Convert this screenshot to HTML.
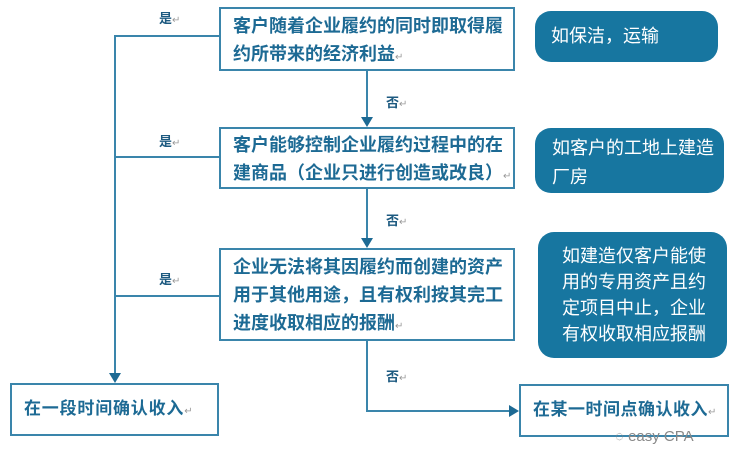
<!DOCTYPE html>
<html><head><meta charset="utf-8"><style>
body{margin:0;width:741px;height:467px;background:#fff;position:relative;overflow:hidden;font-family:"Liberation Sans","Noto Sans CJK SC",sans-serif;}
.b{position:absolute;border:2px solid #3a85ab;box-sizing:border-box;color:#1d6a94;font-weight:bold;font-size:18px;letter-spacing:0;line-height:28px;padding:4px 0 4px 12px;background:#fff;white-space:nowrap}
.r{position:absolute;background:#1776a0;border-radius:16px;color:#fff;font-size:18px;line-height:26px;box-sizing:border-box;white-space:nowrap}
.l{position:absolute;background:#3a85ab}
.t{position:absolute;color:#1d5a80;font-size:13px;font-weight:bold}
.a{position:absolute;width:0;height:0}
.m{color:#999;font-size:10px;font-weight:normal;letter-spacing:0}
</style></head><body>
<div class="l" style="left:114px;top:35px;width:2px;height:340px"></div>
<div class="l" style="left:114px;top:35px;width:106px;height:2px"></div>
<div class="l" style="left:114px;top:156px;width:106px;height:2px"></div>
<div class="l" style="left:114px;top:295px;width:106px;height:2px"></div>
<div class="a" style="left:109px;top:373px;border-left:6px solid transparent;border-right:6px solid transparent;border-top:10px solid #1d6a94"></div>
<div class="l" style="left:366px;top:70px;width:2px;height:50px"></div>
<div class="a" style="left:361px;top:117px;border-left:6px solid transparent;border-right:6px solid transparent;border-top:10px solid #1d6a94"></div>
<div class="l" style="left:366px;top:188px;width:2px;height:52px"></div>
<div class="a" style="left:361px;top:238px;border-left:6px solid transparent;border-right:6px solid transparent;border-top:10px solid #1d6a94"></div>
<div class="l" style="left:366px;top:340px;width:2px;height:72px"></div>
<div class="l" style="left:366px;top:410px;width:146px;height:2px"></div>
<div class="a" style="left:509px;top:405px;border-top:6px solid transparent;border-bottom:6px solid transparent;border-left:10px solid #1d6a94"></div>
<div class="t" style="left:159px;top:8px">是<span class="m">↵</span></div>
<div class="t" style="left:159px;top:131px">是<span class="m">↵</span></div>
<div class="t" style="left:159px;top:269px">是<span class="m">↵</span></div>
<div class="t" style="left:386px;top:92px">否<span class="m">↵</span></div>
<div class="t" style="left:386px;top:210px">否<span class="m">↵</span></div>
<div class="t" style="left:386px;top:366px">否<span class="m">↵</span></div>
<div class="b" style="left:219px;top:7px;width:296px;height:64px;padding-top:3px">客户随着企业履约的同时即取得履<br>约所带来的经济利益<span class="m">↵</span></div>
<div class="b" style="left:219px;top:127px;width:296px;height:62px;padding-top:2px">客户能够控制企业履约过程中的在<br>建商品（企业只进行创造或改良）<span class="m">↵</span></div>
<div class="b" style="left:219px;top:248px;width:296px;height:93px;padding-top:3px">企业无法将其因履约而创建的资产<br>用于其他用途，且有权利按其完工<br>进度收取相应的报酬<span class="m">↵</span></div>
<div class="b" style="left:10px;top:383px;width:209px;height:53px;padding-top:10px;font-size:17px;letter-spacing:0.8px">在一段时间确认收入<span class="m">↵</span></div>
<div class="b" style="left:519px;top:384px;width:210px;height:53px;padding-top:10px;font-size:17px;letter-spacing:0.5px">在某一时间点确认收入<span class="m">↵</span></div>
<div class="r" style="left:535px;top:11px;width:183px;height:51px;padding:12px 0 0 16px">如保洁，运输</div>
<div class="r" style="left:535px;top:128px;width:189px;height:65px;padding:6px 0 0 17px;line-height:29px">如客户的工地上建造<br>厂房</div>
<div class="r" style="left:538px;top:232px;width:189px;height:126px;padding:11px 0 0 24px">如建造仅客户能使<br>用的专用资产且约<br>定项目中止，企业<br>有权收取相应报酬</div>
<div style="position:absolute;left:615px;top:428px;color:#888;font-size:15px">◌ easy CPA</div>
</body></html>
